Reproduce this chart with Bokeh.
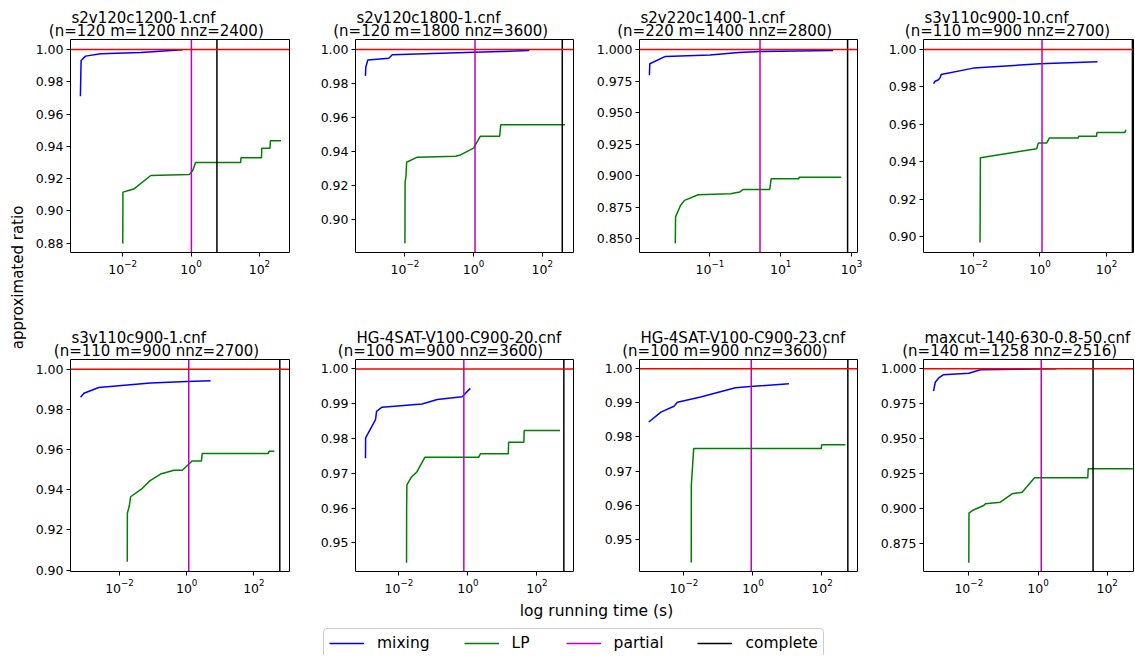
import math
from bokeh.plotting import figure
from bokeh.models import (Range1d, FixedTicker, PrintfTickFormatter, Span, Title,
                          Legend, LegendItem, Label)
from bokeh.layouts import row, column
from bokeh.embed import file_html
from bokeh.resources import INLINE

FONT = "DejaVu Sans"

# ---------------- data ----------------
TITLES = ["s2v120c1200-1.cnf", "s2v120c1800-1.cnf", "s2v220c1400-1.cnf", "s3v110c900-10.cnf",
          "s3v110c900-1.cnf", "HG-4SAT-V100-C900-20.cnf", "HG-4SAT-V100-C900-23.cnf",
          "maxcut-140-630-0.8-50.cnf"]
SUBTITLES = ["(n=120 m=1200 nnz=2400)", "(n=120 m=1800 nnz=3600)", "(n=220 m=1400 nnz=2800)",
             "(n=110 m=900 nnz=2700)", "(n=110 m=900 nnz=2700)", "(n=100 m=900 nnz=3600)",
             "(n=100 m=900 nnz=3600)", "(n=140 m=1258 nnz=2516)"]

PARTIAL_T = [1.02, 1.1, 2.6, 1.15, 1.15, 0.76, 0.89, 1.24]
COMPLETE_T = [5.7, 383, 776, 600, 590, 603, 562, 39]
OPTIMUM = 1.0

# panel 1
MIX_T1 = [0.000575, 0.000603, 0.000813, 0.00224, 0.0339, 0.575]
MIX_R1 = [0.971, 0.9932, 0.9959, 0.9973, 0.9981, 0.9998]
LP_T1 = [0.0100, 0.0101, 0.0148, 0.0209, 0.0661, 0.891, 1.12, 1.35, 28.2, 28.8, 115, 117, 204, 209, 427]
LP_R1 = [0.8797, 0.9116, 0.9126, 0.9135, 0.9219, 0.9226, 0.925, 0.930, 0.930, 0.9329, 0.9329, 0.9388, 0.9388, 0.9434, 0.9434]
# panel 2
MIX_T2 = [0.000708, 0.000724, 0.000832, 0.00339, 0.00427, 1.0, 41.7]
MIX_R2 = [0.9845, 0.9896, 0.9939, 0.9949, 0.9969, 0.9984, 0.9994]
LP_T2 = [0.0100, 0.0101, 0.0107, 0.0112, 0.0229, 0.302, 0.417, 1.0, 1.58, 5.75, 6.17, 457]
LP_R2 = [0.886, 0.922, 0.925, 0.9337, 0.9367, 0.9372, 0.938, 0.942, 0.949, 0.949, 0.9557, 0.9557]
# panel 3
MIX_T3 = [0.00195, 0.00200, 0.00550, 0.100, 0.646, 2.69, 302]
MIX_R3 = [0.9796, 0.9887, 0.9945, 0.9956, 0.9976, 0.9984, 0.9992]
LP_T3 = [0.0105, 0.0107, 0.0148, 0.0191, 0.0468, 0.380, 0.692, 0.871, 4.90, 5.37, 32.4, 33.1, 513]
LP_R3 = [0.8465, 0.8673, 0.8765, 0.8804, 0.8849, 0.8857, 0.887, 0.8891, 0.8891, 0.8975, 0.8975, 0.8988, 0.8988]
# panel 4
MIX_T4 = [0.000631, 0.000708, 0.000891, 0.00100, 0.00107, 0.0100, 1.0, 53.7]
MIX_R4 = [0.9817, 0.983, 0.9838, 0.9849, 0.9866, 0.990, 0.9923, 0.9934]
LP_T4 = [0.0158, 0.0162, 0.794, 0.891, 1.58, 1.91, 14.1, 14.5, 50.1, 51.3, 355, 380]
LP_R4 = [0.8967, 0.9421, 0.9469, 0.9499, 0.9499, 0.9526, 0.9526, 0.9535, 0.9535, 0.9556, 0.9556, 0.9571]
# panel 5
MIX_T5 = [0.000692, 0.000871, 0.00240, 0.0832, 1.0, 5.13]
MIX_R5 = [0.986, 0.988, 0.9909, 0.9931, 0.9939, 0.9942]
LP_T5 = [0.0170, 0.0171, 0.0195, 0.0214, 0.0479, 0.0794, 0.166, 0.417, 0.741, 1.45, 2.75, 2.88, 269, 282, 407]
LP_R5 = [0.9041, 0.9283, 0.9319, 0.9365, 0.9407, 0.9444, 0.9478, 0.9497, 0.9497, 0.9543, 0.9543, 0.958, 0.958, 0.9591, 0.9591]
# panel 6
MIX_T6 = [0.00107, 0.00108, 0.00209, 0.00224, 0.00324, 0.0468, 0.129, 0.676, 1.17]
MIX_R6 = [0.9743, 0.9802, 0.9854, 0.9878, 0.989, 0.9899, 0.9912, 0.992, 0.9944]
LP_T6 = [0.0166, 0.0167, 0.0170, 0.0229, 0.0324, 0.0562, 2.04, 2.29, 14.8, 15.1, 41.7, 42.7, 468]
LP_R6 = [0.9443, 0.9602, 0.9667, 0.9689, 0.9703, 0.9746, 0.9746, 0.9756, 0.9756, 0.9789, 0.9789, 0.9823, 0.9823]
# panel 7
MIX_T7 = [0.000955, 0.00214, 0.00513, 0.00646, 0.0302, 0.309, 0.851, 11.0]
MIX_R7 = [0.9844, 0.9873, 0.989, 0.9902, 0.9917, 0.9944, 0.9948, 0.9956]
LP_T7 = [0.0162, 0.0163, 0.0191, 95.5, 97.7, 479]
LP_R7 = [0.9432, 0.9658, 0.9766, 0.9766, 0.9777, 0.9777]
# panel 8
MIX_T8 = [0.000955, 0.00107, 0.00135, 0.00182, 0.0100, 0.0219, 3.39]
MIX_R8 = [0.984, 0.9904, 0.9935, 0.9957, 0.9968, 0.9993, 1.0]
LP_T8 = [0.0100, 0.0101, 0.0126, 0.0269, 0.0302, 0.0813, 0.178, 0.347, 0.794, 27.5, 28.2, 550]
LP_R8 = [0.861, 0.8965, 0.8984, 0.902, 0.9032, 0.9044, 0.9104, 0.9116, 0.9219, 0.9219, 0.9283, 0.9283]

MIX_T = [MIX_T1, MIX_T2, MIX_T3, MIX_T4, MIX_T5, MIX_T6, MIX_T7, MIX_T8]
MIX_R = [MIX_R1, MIX_R2, MIX_R3, MIX_R4, MIX_R5, MIX_R6, MIX_R7, MIX_R8]
LP_T = [LP_T1, LP_T2, LP_T3, LP_T4, LP_T5, LP_T6, LP_T7, LP_T8]
LP_R = [LP_R1, LP_R2, LP_R3, LP_R4, LP_R5, LP_R6, LP_R7, LP_R8]

# tick values
XT_A = [1e-2, 1e0, 1e2]
XT_B = [1e-1, 1e1, 1e3]
X_TICKS = [XT_A, XT_A, XT_B, XT_A, XT_A, XT_A, XT_A, XT_A]
YT_1 = [0.88, 0.90, 0.92, 0.94, 0.96, 0.98, 1.00]
YT_2 = [0.90, 0.92, 0.94, 0.96, 0.98, 1.00]
YT_3 = [0.850, 0.875, 0.900, 0.925, 0.950, 0.975, 1.000]
YT_6 = [0.95, 0.96, 0.97, 0.98, 0.99, 1.00]
YT_8 = [0.875, 0.900, 0.925, 0.950, 0.975, 1.000]
Y_TICKS = [YT_1, YT_2, YT_3, YT_2, YT_2, YT_6, YT_6, YT_8]
Y_FMT = ["%.2f", "%.2f", "%.3f", "%.2f", "%.2f", "%.2f", "%.2f", "%.3f"]

# view ranges (log10 of x, y)
X_LOG_RANGE = [(-3.53, 2.88), (-3.44, 2.91), (-2.99, 3.17), (-3.50, 2.81),
               (-3.46, 3.06), (-3.26, 3.06), (-3.29, 3.03), (-3.31, 2.76)]
Y_RANGE = [(0.8742, 1.0062), (0.8806, 1.0059), (0.8391, 1.0079), (0.8914, 1.0053),
           (0.8993, 1.0048), (0.9418, 1.0027), (0.9406, 1.0027), (0.8547, 1.0067)]

# ---------------- layout geometry ----------------
COLS = [dict(w=285, bl=40, br=26), dict(w=276, bl=40, br=18),
        dict(w=284, bl=48, br=18), dict(w=259, bl=48, br=1)]
ROWS = [dict(h=320, bt=39, bb=68), dict(h=275, bt=39, bb=24)]
SUB_OFFSET = [-21.7, -22.3, -22.3, -18.7, -16.7, -17.7, -17.3, -21.3]

BLUE, GREEN, MAGENTA, BLACK, RED = "#0000ff", "#008000", "#bf00bf", "#000000", "#ff0000"


def make_panel(i):
    c = COLS[i % 4]
    r = ROWS[i // 4]
    x0, x1 = X_LOG_RANGE[i]
    y0, y1 = Y_RANGE[i]
    p = figure(width=c["w"], height=r["h"], x_axis_type="log",
               x_range=Range1d(10 ** x0, 10 ** x1), y_range=Range1d(y0, y1),
               output_backend="svg", toolbar_location=None,
               min_border_left=c["bl"], min_border_right=c["br"],
               min_border_top=r["bt"], min_border_bottom=r["bb"])
    p.title.text = ""
    p.add_layout(Title(text=SUBTITLES[i], align="left", offset=SUB_OFFSET[i],
                       text_font=FONT, text_font_size="15px", text_font_style="normal",
                       text_color="black", standoff=0), "above")
    p.add_layout(Title(text=TITLES[i], align="left", offset=1,
                       text_font=FONT, text_font_size="15px", text_font_style="normal",
                       text_color="black", standoff=-14), "above")
    p.grid.visible = False
    p.outline_line_color = "black"
    p.outline_line_alpha = 1
    p.outline_line_width = 1
    p.background_fill_color = "white"
    p.border_fill_color = "white"
    p.xaxis.ticker = FixedTicker(ticks=X_TICKS[i])
    p.yaxis.ticker = FixedTicker(ticks=Y_TICKS[i])
    p.yaxis.formatter = PrintfTickFormatter(format=Y_FMT[i])
    for ax in (p.xaxis[0], p.yaxis[0]):
        ax.axis_line_color = None
        ax.major_tick_out = 4
        ax.major_tick_in = 0
        ax.minor_tick_out = 0
        ax.minor_tick_in = 0
        ax.major_tick_line_color = "black"
        ax.major_label_text_font = FONT
        ax.major_label_text_font_size = "12.5px"
        ax.major_label_text_color = "black"
        ax.major_label_standoff = 3

    p.line(MIX_T[i], MIX_R[i], line_color=BLUE, line_width=1.5)
    p.line(LP_T[i], LP_R[i], line_color=GREEN, line_width=1.5)
    p.add_layout(Span(location=PARTIAL_T[i], dimension="height", line_color=MAGENTA, line_width=1.5))
    p.add_layout(Span(location=COMPLETE_T[i], dimension="height", line_color=BLACK, line_width=1.5))
    p.add_layout(Span(location=OPTIMUM, dimension="width", line_color=RED, line_width=1.5))
    return p


panels = [make_panel(i) for i in range(8)]

# y label figure
YL_W = 30
YL_H = ROWS[0]["h"] + ROWS[1]["h"]
ylab = figure(width=YL_W, height=YL_H, x_range=Range1d(0, YL_W), y_range=Range1d(0, YL_H),
              output_backend="svg", toolbar_location=None, min_border=0)
ylab.axis.visible = False
ylab.grid.visible = False
ylab.outline_line_color = None
ylab.add_layout(Label(x=17.5, y=YL_H - 277, x_units="screen", y_units="screen",
                      text="approximated ratio", angle=math.pi / 2,
                      text_align="center", text_baseline="middle",
                      text_font=FONT, text_font_size="15px", text_color="black"))

# bottom figure: x label + legend
BW = 1134
BH = 60
bot = figure(width=BW, height=BH, x_range=Range1d(0, BW), y_range=Range1d(0, BH),
             output_backend="svg", toolbar_location=None, min_border=0)
bot.axis.visible = False
bot.grid.visible = False
bot.outline_line_color = None
bot.add_layout(Label(x=596, y=BH - 15, x_units="screen", y_units="screen",
                     text="log running time (s)", text_align="center", text_baseline="alphabetic",
                     text_font=FONT, text_font_size="15.5px", text_color="black"))
LEGEND_NAMES = ["mixing", "LP", "partial", "complete"]
LEGEND_COLORS = [BLUE, GREEN, MAGENTA, BLACK]
NAN = float("nan")
items = []
for name, col in zip(LEGEND_NAMES, LEGEND_COLORS):
    rr = bot.line([NAN, NAN], [NAN, NAN], line_color=col, line_width=1.5)
    items.append(LegendItem(label=name, renderers=[rr]))
leg = Legend(items=items, orientation="horizontal", location=(323, -3),
             label_text_font=FONT, label_text_font_size="15.5px", label_text_color="black",
             glyph_width=35, glyph_height=18, label_height=18, label_standoff=13,
             spacing=34, padding=5, margin=0,
             border_line_color="#cccccc", border_line_width=1, border_line_alpha=1,
             background_fill_color="white", background_fill_alpha=1)
try:
    leg.border_radius = 4
except Exception:
    pass
bot.add_layout(leg)

grid = column(row(*panels[:4]), row(*panels[4:]))
layout = column(row(ylab, grid), bot)

open("out.html", "w").write(file_html(layout, INLINE))
